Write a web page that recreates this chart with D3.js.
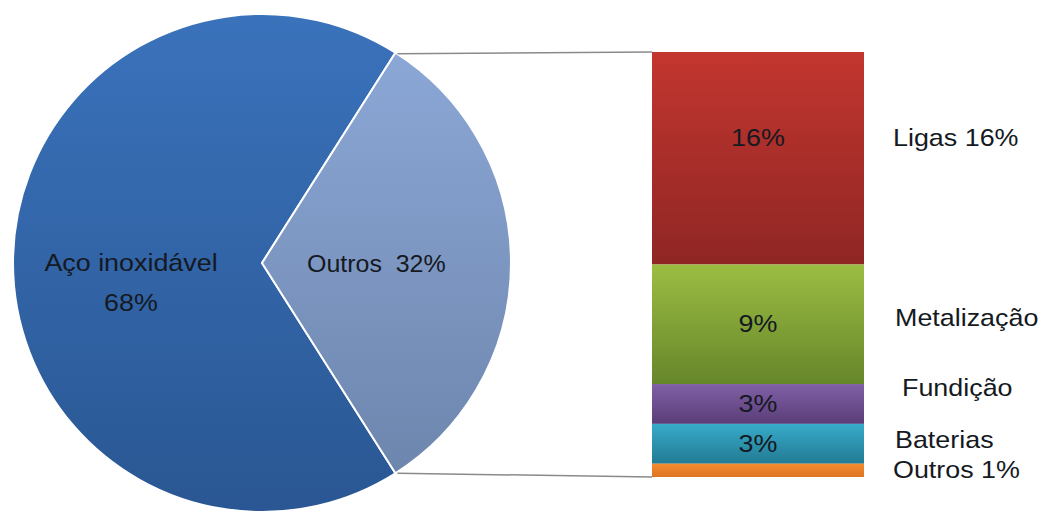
<!DOCTYPE html>
<html>
<head>
<meta charset="utf-8">
<script src="https://cdn.jsdelivr.net/npm/d3@7"></script>
<style>
  html, body { margin: 0; padding: 0; background: #fff; }
  svg { display: block; }
  text { font-family: "Liberation Sans", Arial, sans-serif; fill: #151922; white-space: pre; }
</style>
</head>
<body>
<svg id="chart" width="1049" height="512"></svg>
<script>
// pie data
const pieLabels = ['Aço inoxidável', 'Outros']
const pieValues = [68, 32]
const pieTop = ['#3a72bb', '#8eaad9']
const pieBottom = ['#2a5793', '#6a83aa']

// breakdown of "Outros"
const barLabels = ['Ligas 16%', 'Metalização', 'Fundição', 'Baterias', 'Outros 1%']
const barValues = [16, 9, 3, 3, 1]
const barText = ['16%', '9%', '3%', '3%', '']
const barTop = ['#c3362f', '#9cbd42', '#8060a6', '#37abca', '#f28c30']
const barBottom = ['#8f2624', '#66862b', '#5a3d78', '#227a93', '#de7420']

// hand nudges of the label placement, like the original
const barTextDy = [-20, 0, 0, 0, 0]
const sideDy = [-20, -6, -16, -4, 0]
const sideDx = [0, 2, 9, 2, 0]

const STRETCH = 1.12
const svg = d3.select('#chart')
const defs = svg.append('defs')

const cx = 262
const cy = 263
const r = 249

/** vertical gradient from top to bottom colour */
function gradient (id, top, bottom, y1, y2) {
  const g = defs.append('linearGradient').attr('id', id)
    .attr('gradientUnits', 'userSpaceOnUse')
    .attr('x1', 0).attr('x2', 0).attr('y1', y1).attr('y2', y2)
  g.append('stop').attr('offset', 0).attr('stop-color', top)
  g.append('stop').attr('offset', 1).attr('stop-color', bottom)
  return 'url(#' + id + ')'
}

/** text slightly stretched horizontally */
function label (x, y, str, anchor, stretch = STRETCH) {
  svg.append('g').attr('transform', `translate(${x},${y}) scale(${stretch},1)`)
    .append('text').attr('text-anchor', anchor || 'start')
    .style('font-size', '24px').text(str)
}

// pie: the "Outros" slice is centred on the right
const total = d3.sum(pieValues)
const half = pieValues[1] / total * Math.PI
const start = Math.PI / 2 + half
const pie = d3.pie().sort(null).startAngle(start).endAngle(start + 2 * Math.PI)
const arcs = pie(pieValues)
const arc = d3.arc().innerRadius(0).outerRadius(r)

const gp = svg.append('g').attr('transform', `translate(${cx},${cy})`)
gp.selectAll('path').data(arcs).enter().append('path')
  .attr('d', arc)
  .attr('fill', (d, i) => gradient('pg' + i, pieTop[i], pieBottom[i], -r, r))
  .attr('stroke', '#fff').attr('stroke-width', 2).attr('stroke-linejoin', 'round')

// bar
const x0 = 652
const x1 = 864
const y = d3.scaleLinear().domain([0, d3.sum(barValues)]).range([52, 477])
const stack = []
let acc = 0
barValues.forEach((v, i) => { stack.push({ i, a: acc, b: acc + v }); acc += v })

// connectors from slice corners to bar
const corner = a => [cx + r * Math.sin(a), cy - r * Math.cos(a)]
const outros = arcs[1]
const ptTop = corner(outros.startAngle)
const ptBot = corner(outros.endAngle)
svg.append('line').attr('x1', ptTop[0] + 2).attr('y1', ptTop[1] + 1).attr('x2', x0).attr('y2', y(0))
  .attr('stroke', '#8a8a8a').attr('stroke-width', 1.5)
svg.append('line').attr('x1', ptBot[0] + 2).attr('y1', ptBot[1]).attr('x2', x0).attr('y2', y(acc))
  .attr('stroke', '#8a8a8a').attr('stroke-width', 1.5)

svg.selectAll('rect.seg').data(stack).enter().append('rect').attr('class', 'seg')
  .attr('x', x0).attr('width', x1 - x0)
  .attr('y', d => y(d.a)).attr('height', d => y(d.b) - y(d.a))
  .attr('fill', d => gradient('bg' + d.i, barTop[d.i], barBottom[d.i], y(d.a), y(d.b)))

// labels
const mid = d => (y(d.a) + y(d.b)) / 2
stack.forEach(d => {
  if (barText[d.i]) label((x0 + x1) / 2, mid(d) + 8 + barTextDy[d.i], barText[d.i], 'middle')
  label(893 + sideDx[d.i], mid(d) + 8 + sideDy[d.i], barLabels[d.i])
})

label(131, 271, pieLabels[0], 'middle')
label(131, 311, pieValues[0] + '%', 'middle')
label(307, 272, pieLabels[1] + '  ' + pieValues[1] + '%', 'start', 1.04)
</script>
</body>
</html>
